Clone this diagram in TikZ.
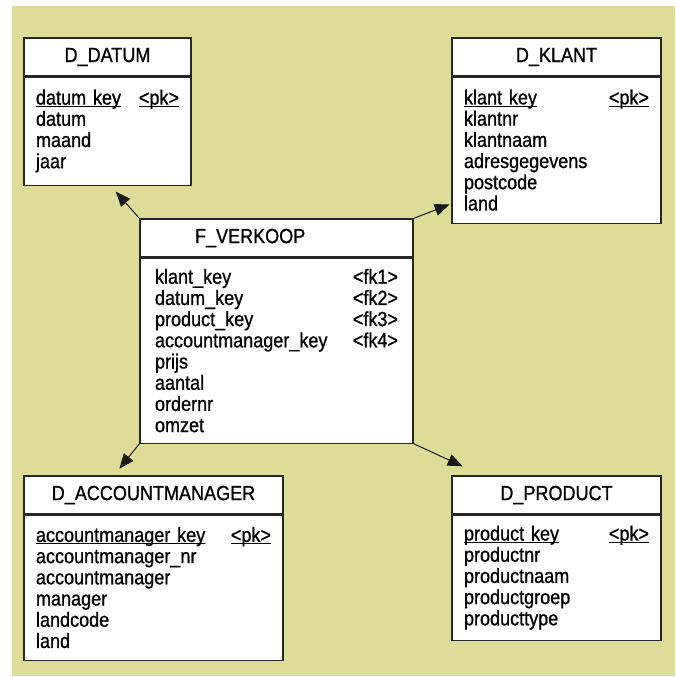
\documentclass[tikz,border=0pt]{standalone}
\usepackage{fontspec}
\setmainfont{Liberation Sans}[FakeStretch=0.88,FakeBold=0.9]
\usetikzlibrary{positioning,arrows.meta}
\definecolor{olivebg}{RGB}{221,221,153}
\newcommand{\keyline}[1]{\setbox0\hbox{#1}\rlap{\rule[-2.2pt]{\wd0}{0.8pt}}\box0}
\newcommand{\pkey}{\hfill\keyline{<pk>}}

\begin{document}
\begin{tikzpicture}[x=1pt,y=-1pt,
	headnode/.style={draw=black!85,line width=1.1pt,fill=white,rectangle,inner sep=0pt,minimum height=38pt,font=\fontsize{20.5}{21.2}\selectfont},
	bodynode/.style={draw=black!85,line width=1.1pt,fill=white,rectangle,inner xsep=12pt,inner ysep=0pt,align=left,font=\fontsize{20.5}{21.2}\selectfont},
	fkarrow/.style={-{Triangle[length=15pt,width=12pt]},line width=1pt,draw=black!90}]
			\useasboundingbox (0,0) rectangle (675,677);
			\fill[olivebg] (12,6) rectangle (675,676);

			\node[headnode,minimum width=167pt]												(dat0)	at (107.5,57)	{D\_DATUM};
			\node[bodynode,text width=143pt,minimum height=108pt,below=0pt of dat0]			(dat1)	{\keyline{datum key}\pkey\\datum\\maand\\jaar};

			\node[headnode,minimum width=209pt]												(kla0)	at (556.5,57)	{D\_KLANT};
			\node[bodynode,text width=185pt,minimum height=146pt,below=0pt of kla0]			(kla1)	{\keyline{klant key}\pkey\\klantnr\\klantnaam\\adresgegevens\\postcode\\land};

			\node[headnode,minimum width=273pt,text width=163pt,inner xsep=55pt,align=left]	(fv0)	at (276.5,238)	{F\_VERKOOP};
			\node[bodynode,text width=243pt,inner xsep=15pt,minimum height=185pt,below=0pt of fv0]	(fv1)	{klant\_key\hfill<fk1>\\datum\_key\hfill<fk2>\\product\_key\hfill<fk3>\\accountmanager\_key\hfill<fk4>\\prijs\\aantal\\ordernr\\omzet};

			\node[headnode,minimum width=259pt]												(acc0)	at (153.5,495)	{D\_ACCOUNTMANAGER};
			\node[bodynode,text width=235pt,minimum height=145pt,below=0pt of acc0]			(acc1)	{\keyline{accountmanager key}\pkey\\accountmanager\_nr\\accountmanager\\manager\\landcode\\land};

			\node[headnode,minimum width=209pt]												(pro0)	at (556.5,495)	{D\_PRODUCT};
			\node[bodynode,text width=185pt,minimum height=125pt,below=0pt of pro0]			(pro1)	{\keyline{product key}\pkey\\productnr\\productnaam\\productgroep\\producttype};

			\draw[fkarrow,shorten >=7.9pt] (fv0.north west) -- ([xshift=3pt]dat1.south);
			\draw[fkarrow,shorten >=2pt] (fv0.north east) -- ([yshift=20pt]kla1.south west);
			\draw[fkarrow,shorten >=8.6pt] (fv1.south west) -- ([xshift=-39.6pt]acc0.north);
			\draw[fkarrow,shorten >=21.8pt] (fv1.south east) -- ([xshift=31pt]pro0.north west);
		\end{tikzpicture}
\end{document}
